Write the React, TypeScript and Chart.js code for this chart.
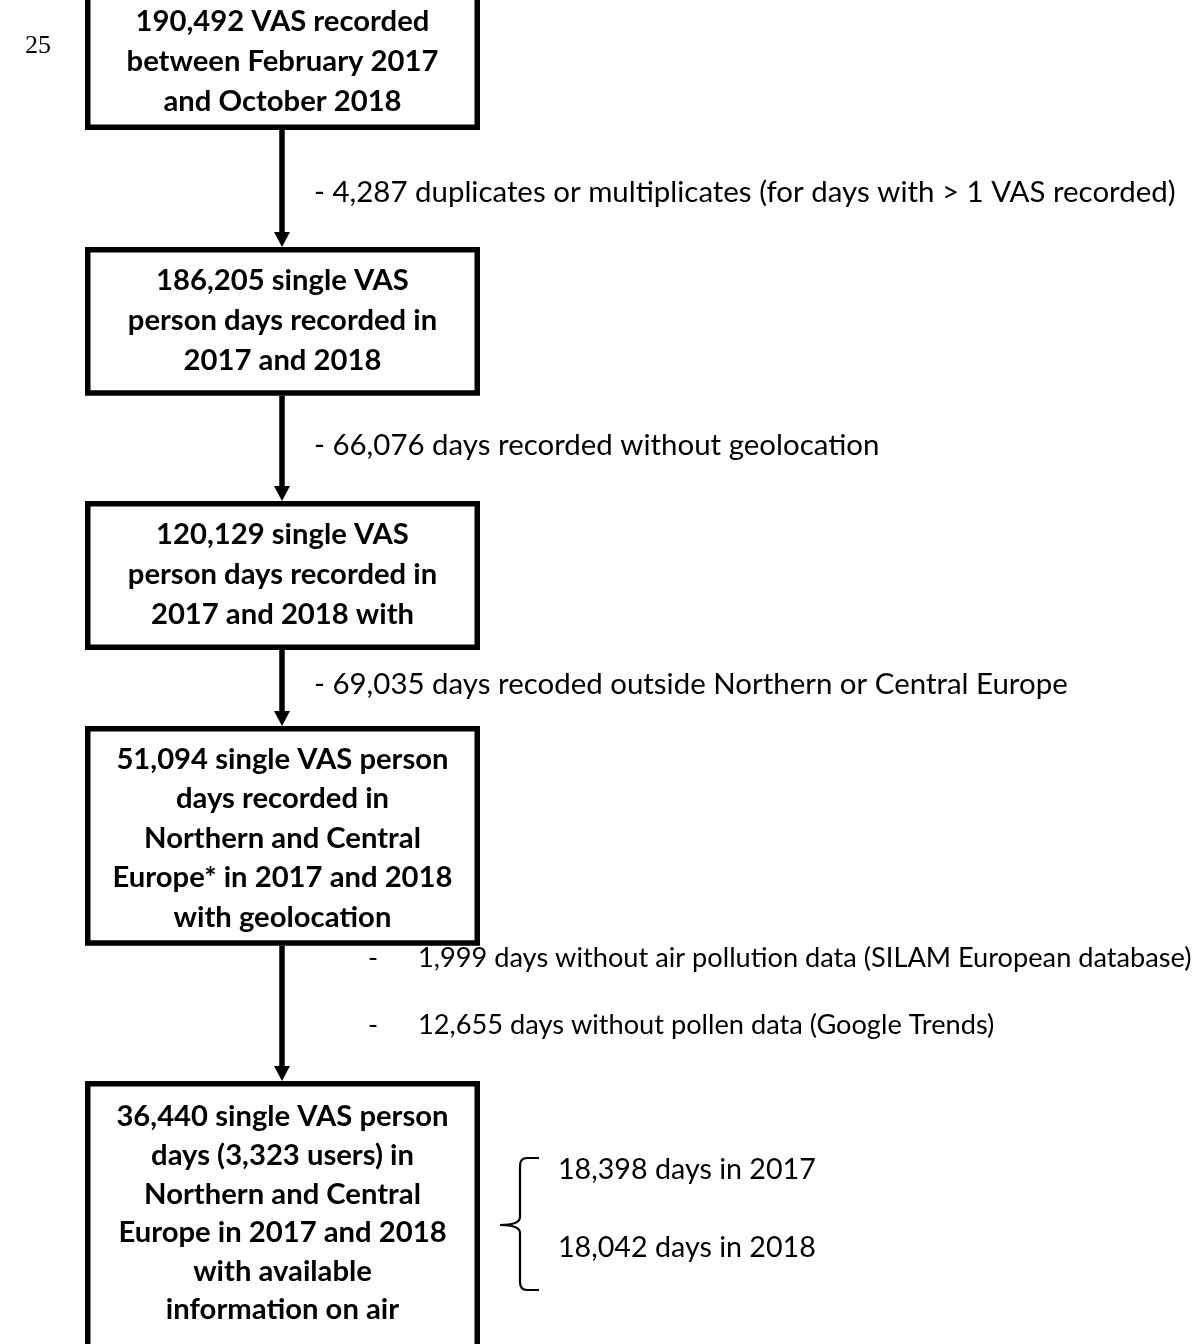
import React, { useEffect, useRef } from "react";
import { Chart, registerables } from "chart.js";

Chart.register(...registerables);

// ---- content ----
const pageNumber = "25";

const boxTexts: string[][] = [
  ["190,492 VAS recorded", "between February 2017", "and October 2018"],
  ["186,205 single VAS", "person days recorded in", "2017 and 2018"],
  ["120,129 single VAS", "person days recorded in", "2017 and 2018 with"],
  [
    "51,094 single VAS person",
    "days recorded in",
    "Northern and Central",
    "Europe* in 2017 and 2018",
    "with geolocation",
  ],
  [
    "36,440 single VAS person",
    "days (3,323 users) in",
    "Northern and Central",
    "Europe in 2017 and 2018",
    "with available",
    "information on air",
  ],
];

const exclusionTexts: string[] = [
  "- 4,287 duplicates or multiplicates (for days with > 1 VAS recorded)",
  "- 66,076 days recorded without geolocation",
  "- 69,035 days recoded outside Northern or Central Europe",
];

const bulletTexts: string[] = [
  "1,999 days without air pollution data (SILAM European database)",
  "12,655 days without pollen data (Google Trends)",
];

const yearTexts: string[] = ["18,398 days in 2017", "18,042 days in 2018"];

// ---- layout (page coordinates, mapped through the chart scales) ----
const PAGE_W = 1200;
const PAGE_H = 1344;
const BOX_L = 87.75;
const BOX_R = 477.25;
const BOX_CX = 282.5;
const BORDER = 5.5;
const boxTop = [-4, 249.75, 503.75, 728.75, 1083.75];
const boxBottom = [127.25, 393, 647.25, 943, 1370];
const boxLineY = [
  [22, 62, 102],
  [281, 321, 361],
  [535, 575, 615],
  [760, 799, 839, 878, 918],
  [1117, 1156, 1195, 1233, 1272, 1310],
];
const ARROW_X = 282;
const exclusionX = 314;
const exclusionY = [193, 446, 685];
const dashX = 368;
const bulletX = 418;
const bulletY = [958, 1025];
const yearX = 558;
const yearY = [1170, 1248];

const BOLD_FONT = "Lato, 'Open Sans', sans-serif";
const REG_FONT = "Lato, 'Open Sans', sans-serif";

const flowPlugin = {
  id: "flow",
  afterDraw(chart: any) {
    const ctx: CanvasRenderingContext2D = chart.ctx;
    const sx = chart.scales.x;
    const sy = chart.scales.y;
    const X = (v: number) => sx.getPixelForValue(v);
    const Y = (v: number) => sy.getPixelForValue(v);

    ctx.save();
    ctx.fillStyle = "#ffffff";
    ctx.fillRect(0, 0, chart.width, chart.height);

    // font fitting
    ctx.font = `bold 100px ${BOLD_FONT}`;
    const boldSize = (100 * 312) / ctx.measureText("between February 2017").width;
    ctx.font = `100px ${REG_FONT}`;
    const regSize = (100 * 862) / ctx.measureText(exclusionTexts[0]).width;
    const bulletSize = (100 * 774) / ctx.measureText(bulletTexts[0]).width;
    const yearSize = (100 * 258) / ctx.measureText(yearTexts[0]).width;

    // page number
    ctx.fillStyle = "#000";
    ctx.font = `26px 'Liberation Serif', 'DejaVu Serif', serif`;
    ctx.textBaseline = "middle";
    ctx.textAlign = "left";
    ctx.fillText(pageNumber, X(25), Y(46));

    // boxes
    ctx.strokeStyle = "#000";
    ctx.lineWidth = BORDER;
    ctx.lineJoin = "miter";
    boxTexts.forEach((lines, i) => {
      ctx.strokeRect(X(BOX_L), Y(boxTop[i]), X(BOX_R) - X(BOX_L), Y(boxBottom[i]) - Y(boxTop[i]));
      ctx.font = `bold ${boldSize}px ${BOLD_FONT}`;
      ctx.textAlign = "center";
      ctx.textBaseline = "middle";
      lines.forEach((t, j) => ctx.fillText(t, X(BOX_CX), Y(boxLineY[i][j])));
    });

    // arrows
    for (let i = 0; i < boxTexts.length - 1; i++) {
      const y0 = boxBottom[i] + BORDER / 2;
      const tip = boxTop[i + 1] - BORDER / 2;
      const headH = 15;
      const headW = 8;
      ctx.lineWidth = 5.5;
      ctx.lineCap = "butt";
      ctx.beginPath();
      ctx.moveTo(X(ARROW_X), Y(y0));
      ctx.lineTo(X(ARROW_X), Y(tip - headH + 1));
      ctx.stroke();
      ctx.beginPath();
      ctx.moveTo(X(ARROW_X - headW), Y(tip - headH));
      ctx.lineTo(X(ARROW_X + headW), Y(tip - headH));
      ctx.lineTo(X(ARROW_X), Y(tip));
      ctx.closePath();
      ctx.fill();
    }

    // exclusion texts
    ctx.textAlign = "left";
    ctx.textBaseline = "middle";
    ctx.font = `${regSize}px ${REG_FONT}`;
    exclusionTexts.forEach((t, i) => ctx.fillText(t, X(exclusionX), Y(exclusionY[i])));
    ctx.font = `${bulletSize}px ${REG_FONT}`;
    bulletTexts.forEach((t, i) => {
      ctx.fillText("-", X(dashX), Y(bulletY[i]));
      ctx.fillText(t, X(bulletX), Y(bulletY[i]));
    });
    ctx.font = `${yearSize}px ${REG_FONT}`;
    yearTexts.forEach((t, i) => ctx.fillText(t, X(yearX), Y(yearY[i])));

    // brace
    ctx.lineWidth = 2.2;
    ctx.lineCap = "butt";
    ctx.beginPath();
    ctx.moveTo(X(539), Y(1158));
    ctx.lineTo(X(527), Y(1158));
    ctx.quadraticCurveTo(X(520), Y(1158), X(520), Y(1166));
    ctx.lineTo(X(520), Y(1217));
    ctx.quadraticCurveTo(X(520), Y(1225), X(500), Y(1225));
    ctx.quadraticCurveTo(X(520), Y(1225), X(520), Y(1233));
    ctx.lineTo(X(520), Y(1282));
    ctx.quadraticCurveTo(X(520), Y(1290), X(527), Y(1290));
    ctx.lineTo(X(539), Y(1290));
    ctx.stroke();

    ctx.restore();
  },
};

export default function App() {
  const ref = useRef<HTMLCanvasElement | null>(null);
  useEffect(() => {
    if (!ref.current) return;
    const chart = new Chart(ref.current, {
      type: "scatter",
      data: { datasets: [{ data: [], showLine: false }] },
      options: {
        animation: false,
        responsive: false,
        devicePixelRatio: 1,
        layout: { padding: 0 },
        scales: {
          x: { type: "linear", min: 0, max: PAGE_W, display: false },
          y: { type: "linear", min: 0, max: PAGE_H, reverse: true, display: false },
        },
        plugins: { legend: { display: false }, tooltip: { enabled: false } },
      },
      plugins: [flowPlugin],
    });
    return () => chart.destroy();
  }, []);
  return (
    <div style={{ position: "absolute", left: 0, top: 0, width: PAGE_W, height: PAGE_H, background: "#fff" }}>
      <canvas ref={ref} width={PAGE_W} height={PAGE_H} style={{ width: PAGE_W, height: PAGE_H, display: "block" }} />
    </div>
  );
}
